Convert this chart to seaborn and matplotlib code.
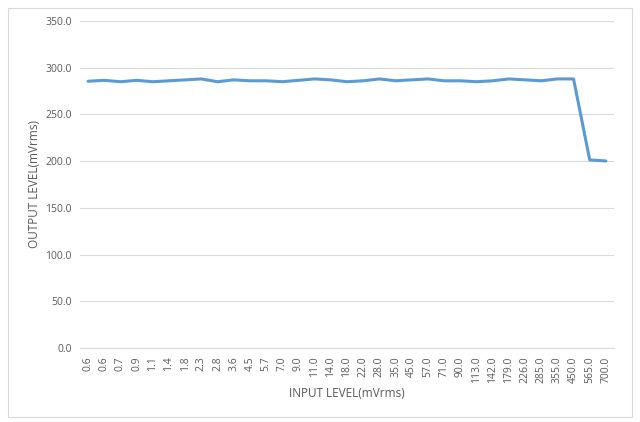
import matplotlib
matplotlib.use('Agg')
import matplotlib.pyplot as plt
import seaborn as sns
import pandas as pd
from matplotlib.patches import Rectangle

# input levels (category labels) and measured output levels
entrada = ['0.6', '0.6', '0.7', '0.9', '1.1', '1.4', '1.8', '2.3', '2.8', '3.6', '4.5',
           '5.7', '7.0', '9.0', '11.0', '14.0', '18.0', '22.0', '28.0', '35.0', '45.0',
           '57.0', '71.0', '90.0', '113.0', '142.0', '179.0', '226.0', '285.0', '355.0',
           '450.0', '565.0', '700.0']
saida = [285.5, 286.5, 285.0, 286.5, 285.0, 286.0, 287.0, 288.0, 285.0, 287.0, 286.0,
         286.0, 285.0, 286.5, 288.0, 287.0, 285.0, 286.0, 288.0, 286.0, 287.0,
         288.0, 286.0, 286.0, 285.0, 286.0, 288.0, 287.0, 286.0, 288.0,
         288.0, 201.3, 200.2]
yticks = [0, 50, 100, 150, 200, 250, 300, 350]

df = pd.DataFrame({'pos': range(len(entrada)), 'saida': saida})

sns.set_style('white')
plt.rcParams['font.family'] = ['Open Sans', 'DejaVu Sans']
cinza = '#595959'

fig = plt.figure(figsize=(6.4, 4.22), dpi=100)
ax = fig.add_axes([80 / 640, 74 / 422, 534 / 640, 327 / 422])

sns.lineplot(data=df, x='pos', y='saida', ax=ax, color='#5B9BD5', linewidth=2.2)

ax.set_xlim(-0.5, len(entrada) - 0.5)
ax.set_ylim(0, 350)
ax.set_yticks(yticks)
ax.set_yticklabels([f'{v:.1f}' for v in yticks], fontsize=7.5, color=cinza)
ax.set_xticks(range(len(entrada)))
ax.set_xticklabels(entrada, rotation=90, fontsize=7.5, color=cinza)
ax.tick_params(axis='both', length=0, pad=6)
ax.yaxis.grid(True, color='#D9D9D9', linewidth=0.8)
ax.set_axisbelow(True)
for s in ['top', 'right', 'left']:
    ax.spines[s].set_visible(False)
ax.spines['bottom'].set_color('#D9D9D9')
ax.spines['bottom'].set_linewidth(0.8)

ax.set_xlabel('INPUT LEVEL(mVrms)', fontsize=8.5, color=cinza, labelpad=3)
ax.set_ylabel('OUTPUT LEVEL(mVrms)', fontsize=8.5, color=cinza, labelpad=3)

# outer chart border
fig.patches.append(Rectangle((8 / 640, 5 / 422), 624 / 640, 409 / 422,
                             transform=fig.transFigure, fill=False,
                             edgecolor='#D9D9D9', linewidth=0.8))

fig.savefig('out.png', dpi=100)
